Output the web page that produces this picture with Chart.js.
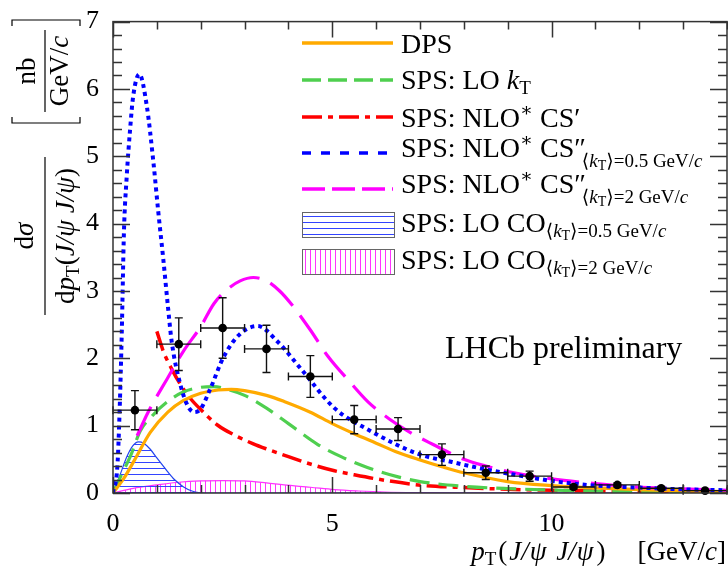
<!DOCTYPE html>
<html>
<head>
<meta charset="utf-8">
<script src="https://cdn.jsdelivr.net/npm/chart.js@4.4.0/dist/chart.umd.min.js"></script>
<style>
html, body { margin: 0; padding: 0; background: #fff; }
</style>
</head>
<body>
<canvas id="plot" width="728" height="569"></canvas>
<script>
// measured points (bin centres, values, errors)
const dataX = [0.5, 1.5, 2.5, 3.5, 4.5, 5.5, 6.5, 7.5, 8.5, 9.5, 10.5, 11.5, 12.5, 13.5];
const dataY = [1.23, 2.21, 2.45, 2.14, 1.73, 1.09, 0.95, 0.57, 0.30, 0.25, 0.09, 0.12, 0.07, 0.035];
const dataXErr = [0.5, 0.5, 0.5, 0.5, 0.5, 0.5, 0.5, 0.5, 0.5, 0.5, 0.5, 0.5, 0.5, 0.5];
const dataYErr = [0.29, 0.39, 0.45, 0.35, 0.31, 0.21, 0.17, 0.16, 0.10, 0.075, 0.03, 0.03, 0.02, 0.015];

// DPS
const dpsX = [0, 0.25, 0.5, 0.85, 1.25, 1.6, 2.0, 2.4, 2.7, 3.0, 3.5, 3.9, 4.5, 5.0, 5.5, 6.0, 6.5, 7.0, 7.5, 8.0, 9.0, 10, 11, 12, 13, 14];
const dpsY = [0, 0.22, 0.5, 0.9, 1.2, 1.37, 1.48, 1.53, 1.54, 1.52, 1.45, 1.36, 1.2, 1.03, 0.88, 0.74, 0.6, 0.49, 0.39, 0.3, 0.17, 0.11, 0.075, 0.05, 0.033, 0.022];

// SPS: LO kT
const lokX = [0, 0.2, 0.4, 0.62, 0.9, 1.23, 1.6, 2.0, 2.3, 2.6, 3.0, 3.5, 4.0, 4.67, 5.2, 5.8, 6.5, 7.0, 8, 9, 10, 11, 12, 13, 14];
const lokY = [0, 0.28, 0.55, 0.92, 1.15, 1.35, 1.5, 1.57, 1.58, 1.54, 1.45, 1.26, 1.03, 0.72, 0.54, 0.38, 0.24, 0.17, 0.1, 0.065, 0.045, 0.03, 0.02, 0.015, 0.01];

// SPS: NLO* CS'
const csX = [1.0, 1.15, 1.34, 1.55, 1.77, 2.0, 2.38, 2.8, 3.2, 3.52, 4.0, 4.5, 5.05, 5.5, 6.0, 6.96, 8, 9, 10, 11, 12, 13, 14];
const csY = [2.4, 2.1, 1.84, 1.6, 1.4, 1.24, 1.01, 0.85, 0.73, 0.65, 0.54, 0.43, 0.33, 0.27, 0.21, 0.12, 0.08, 0.055, 0.04, 0.03, 0.02, 0.015, 0.01];

// SPS: NLO* CS'' <kT>=0.5
const cs05X = [0, 0.1, 0.15, 0.2, 0.25, 0.31, 0.39, 0.46, 0.6, 0.77, 0.92, 1.03, 1.15, 1.26, 1.34, 1.54, 1.7, 1.85, 2.0, 2.22, 2.53, 2.91, 3.3, 3.75, 4.29, 5.05, 5.82, 6.96, 7.73, 8.5, 9.26, 10, 10.8, 12, 13, 14];
const cs05Y = [0, 0.4, 1.2, 2.38, 3.89, 4.67, 5.4, 5.89, 6.22, 5.75, 4.92, 4.19, 3.45, 2.72, 2.24, 1.6, 1.3, 1.2, 1.25, 1.55, 2.03, 2.37, 2.48, 2.25, 1.84, 1.26, 0.94, 0.58, 0.46, 0.35, 0.26, 0.18, 0.12, 0.08, 0.055, 0.04];

// SPS: NLO* CS'' <kT>=2
const cs2X = [0.55, 0.8, 1.23, 1.6, 2.0, 2.3, 2.6, 2.9, 3.2, 3.5, 3.8, 4.06, 4.5, 4.9, 5.4, 5.82, 6.3, 6.8, 7.3, 8.0, 8.5, 9, 10, 11, 11.9, 13, 14];
const cs2Y = [0.85, 1.2, 1.69, 2.1, 2.47, 2.81, 3.02, 3.15, 3.2, 3.15, 3.0, 2.81, 2.42, 2.03, 1.65, 1.35, 1.1, 0.89, 0.72, 0.5, 0.4, 0.32, 0.21, 0.14, 0.09, 0.06, 0.04];

// SPS: LO CO <kT>=0.5
const co05X = [0, 0.15, 0.31, 0.45, 0.58, 0.7, 0.85, 1.0, 1.23, 1.4, 1.61, 1.8, 1.95, 2.1, 14];
const co05Y = [0, 0.25, 0.53, 0.7, 0.76, 0.74, 0.65, 0.52, 0.33, 0.2, 0.09, 0.03, 0.005, 0, 0];

// SPS: LO CO <kT>=2
const co2X = [0, 0.46, 1.0, 1.5, 2.0, 2.5, 3.0, 3.5, 3.9, 4.5, 5.05, 5.6, 6.2, 7, 8, 10, 14];
const co2Y = [0, 0.07, 0.12, 0.16, 0.18, 0.185, 0.18, 0.15, 0.12, 0.085, 0.05, 0.03, 0.015, 0.007, 0.003, 0, 0];

const SERIF = '"Liberation Serif", "DejaVu Serif", serif';
const pts = (xs, ys) => xs.map((v, i) => ({ x: v, y: ys[i] }));

function hatch(color, horizontal, step) {
    const c = document.createElement('canvas');
    c.width = step; c.height = step;
    const g = c.getContext('2d');
    g.strokeStyle = color;
    g.lineWidth = 1;
    g.beginPath();
    if (horizontal) { g.moveTo(0, 0.5); g.lineTo(step, 0.5); }
    else { g.moveTo(0.5, 0); g.lineTo(0.5, step); }
    g.stroke();
    return g.createPattern(c, 'repeat');
}
const blueHatch = hatch('#3344ff', true, 6);
const pinkHatch = hatch('#ff33ff', false, 5);

// segments: [text, size, italic, dy, dx]
function rich(ctx, segs, x, y, align) {
    const widths = segs.map(s => {
        ctx.font = (s[2] ? 'italic ' : '') + s[1] + 'px ' + SERIF;
        return ctx.measureText(s[0]).width + (s[4] || 0);
    });
    const total = widths.reduce((a, b) => a + b, 0);
    let cx = align === 'right' ? x - total : align === 'center' ? x - total / 2 : x;
    segs.forEach((s, i) => {
        ctx.font = (s[2] ? 'italic ' : '') + s[1] + 'px ' + SERIF;
        ctx.fillText(s[0], cx + (s[4] || 0), y + (s[3] || 0));
        cx += widths[i];
    });
}

const L = 28, S = 19, SS = 14;
const legendItems = [
    { kind: 'line', color: '#ffaa00', dash: [], width: 3.5,
      text: [['DPS', L]] },
    { kind: 'line', color: '#4fcf4f', dash: [19, 7], width: 3.5,
      text: [['SPS: LO ', L], ['k', L, true], ['T', S, false, 5]] },
    { kind: 'line', color: '#ff0000', dash: [20, 6, 5, 6], width: 3.5,
      text: [['SPS: NLO', L], ['\u2217', S, false, -11], [' CS\u2032', L]] },
    { kind: 'line', color: '#0000ff', dash: [9, 10], width: 3.5,
      text: [['SPS: NLO', L], ['\u2217', S, false, -11], [' CS\u2033', L],
             ['\u27e8', S, false, 10, -4], ['k', S, true, 10], ['T', SS, false, 13], ['\u27e9=0.5 GeV/', S, false, 10], ['c', S, true, 10]] },
    { kind: 'line', color: '#ff00ff', dash: [23, 7], width: 3.5,
      text: [['SPS: NLO', L], ['\u2217', S, false, -11], [' CS\u2033', L],
             ['\u27e8', S, false, 10, -4], ['k', S, true, 10], ['T', SS, false, 13], ['\u27e9=2 GeV/', S, false, 10], ['c', S, true, 10]] },
    { kind: 'box', fill: blueHatch,
      text: [['SPS: LO CO', L], ['\u27e8', S, false, 5], ['k', S, true, 5], ['T', SS, false, 8], ['\u27e9=0.5 GeV/', S, false, 5], ['c', S, true, 5]] },
    { kind: 'box', fill: pinkHatch,
      text: [['SPS: LO CO', L], ['\u27e8', S, false, 5], ['k', S, true, 5], ['T', SS, false, 8], ['\u27e9=2 GeV/', S, false, 5], ['c', S, true, 5]] }
];
const legendY = [43, 80, 117, 153, 189, 225, 262];
const legendBase = [53, 89, 127, 157, 193, 232, 269];

// pT(J/psi J/psi) with a little math spacing
const pairSegs = [['(', 27, false, 0, 2], ['J/', 27, true, 0, 2], ['\u03c8', 27, true, 0, 1], [' J/', 27, true, 0, 3], ['\u03c8', 27, true, 0, 1], [')', 27, false, 0, 3]];
const pairPlain = [['(', 27], ['J/\u03c8 J/\u03c8', 27, true], [')', 27]];

const frame = {
    id: 'frame',
    afterDatasetsDraw(chart) {
        const { ctx, scales: { x, y } } = chart;
        ctx.save();
        ctx.strokeStyle = '#111';
        ctx.lineWidth = 1.4;
        dataX.forEach((v, i) => {
            const px = x.getPixelForValue(v), py = y.getPixelForValue(dataY[i]);
            const x0 = x.getPixelForValue(v - dataXErr[i]), x1 = x.getPixelForValue(v + dataXErr[i]);
            const y0 = y.getPixelForValue(dataY[i] + dataYErr[i]), y1 = y.getPixelForValue(dataY[i] - dataYErr[i]);
            ctx.beginPath();
            ctx.moveTo(x0, py); ctx.lineTo(x1, py);
            ctx.moveTo(px, y0); ctx.lineTo(px, y1);
            ctx.moveTo(x0, py - 4); ctx.lineTo(x0, py + 4);
            ctx.moveTo(x1, py - 4); ctx.lineTo(x1, py + 4);
            ctx.moveTo(px - 4, y0); ctx.lineTo(px + 4, y0);
            ctx.moveTo(px - 4, y1); ctx.lineTo(px + 4, y1);
            ctx.stroke();
        });
        ctx.fillStyle = '#000';
        dataX.forEach((v, i) => {
            ctx.beginPath();
            ctx.arc(x.getPixelForValue(v), y.getPixelForValue(dataY[i]), 4.3, 0, Math.PI * 2);
            ctx.fill();
        });
        ctx.restore();
    },
    afterDraw(chart) {
        const { ctx, chartArea: a, scales: { x, y } } = chart;
        ctx.save();
        // frame and inner ticks
        ctx.strokeStyle = '#333';
        ctx.lineWidth = 1.5;
        ctx.strokeRect(a.left, a.top, a.right - a.left, a.bottom - a.top);
        ctx.beginPath();
        for (let v = 0; v <= 7.001; v += 0.2) {
            const py = Math.round(y.getPixelForValue(v)) + 0.5;
            const major = Math.abs(v - Math.round(v)) < 0.01;
            const len = major ? 17 : 9;
            ctx.moveTo(a.left, py); ctx.lineTo(a.left + len, py);
            ctx.moveTo(a.right, py); ctx.lineTo(a.right - len, py);
        }
        for (let v = 0; v <= 14; v += 1) {
            const px = Math.round(x.getPixelForValue(v)) + 0.5;
            const len = v % 5 === 0 ? 16 : 8;
            ctx.moveTo(px, a.bottom); ctx.lineTo(px, a.bottom - len);
            ctx.moveTo(px, a.top); ctx.lineTo(px, a.top + len);
        }
        ctx.stroke();

        // legend
        ctx.fillStyle = '#000';
        ctx.textBaseline = 'alphabetic';
        legendItems.forEach((it, i) => {
            if (it.kind === 'line') {
                ctx.save();
                ctx.strokeStyle = it.color;
                ctx.lineWidth = it.width;
                ctx.setLineDash(it.dash);
                ctx.beginPath();
                ctx.moveTo(302, legendY[i]); ctx.lineTo(393, legendY[i]);
                ctx.stroke();
                ctx.restore();
            } else {
                ctx.save();
                ctx.fillStyle = it.fill;
                ctx.fillRect(302, legendY[i] - 12, 92, 25);
                ctx.strokeStyle = '#666';
                ctx.lineWidth = 1;
                ctx.strokeRect(302.5, legendY[i] - 12.5, 92, 25);
                ctx.restore();
            }
            rich(ctx, it.text, 401, legendBase[i], 'left');
        });

        // LHCb label
        ctx.font = '32px ' + SERIF;
        ctx.fillText('LHCb preliminary', 445, 358);

        // x title
        rich(ctx, [['p', 27, true], ['T', 19, false, 5]].concat(pairSegs,
                  [['[GeV/', 27, false, 0, 32], ['c', 27, true], [']', 27]]), 726, 560, 'right');

        // y title (rotated)
        ctx.save();
        ctx.rotate(-Math.PI / 2);
        rich(ctx, [['d', 27], ['\u03c3', 27, true]], -236, 33, 'center');
        rich(ctx, [['d', 27], ['p', 27, true], ['T', 19, false, 5]].concat(pairPlain), -236, 74, 'center');
        ctx.lineWidth = 1.2;
        ctx.strokeStyle = '#000';
        ctx.beginPath();
        ctx.moveTo(-315, 45); ctx.lineTo(-157, 45);
        ctx.stroke();
        rich(ctx, [['nb', 27]], -71, 35, 'center');
        rich(ctx, [['GeV/', 27], ['c', 27, true]], -71, 68, 'center');
        ctx.beginPath();
        ctx.moveTo(-112, 45); ctx.lineTo(-30, 45);
        // brackets
        ctx.moveTo(-117, 12); ctx.lineTo(-123, 12); ctx.lineTo(-123, 80); ctx.lineTo(-117, 80);
        ctx.moveTo(-26, 12); ctx.lineTo(-20, 12); ctx.lineTo(-20, 80); ctx.lineTo(-26, 80);
        ctx.stroke();
        ctx.restore();
        ctx.restore();
    }
};

const lineDs = (label, xs, ys, color, dash, width, order) => ({
    label, data: pts(xs, ys), borderColor: color, borderDash: dash, borderWidth: width,
    pointRadius: 0, fill: false, cubicInterpolationMode: 'monotone', order
});

const ctx = document.getElementById('plot').getContext('2d');
new Chart(ctx, {
    type: 'line',
    data: {
        datasets: [
            lineDs('SPS: NLO* CS\'\' <kT>=0.5', cs05X, cs05Y, '#0000ff', [4, 4], 4, 1),
            lineDs('SPS: NLO* CS\'\' <kT>=2', cs2X, cs2Y, '#ff00ff', [32, 12], 3.2, 2),
            lineDs('DPS', dpsX, dpsY, '#ffaa00', [], 3.2, 3),
            lineDs('SPS: LO kT', lokX, lokY, '#4fcf4f', [20, 9], 3.2, 4),
            lineDs('SPS: NLO* CS\'', csX, csY, '#ff0000', [20, 6, 5, 6], 3.5, 5),
            { label: 'SPS: LO CO <kT>=0.5', data: pts(co05X, co05Y), borderColor: '#2244ee', borderWidth: 1.2,
              backgroundColor: blueHatch, fill: 'origin', pointRadius: 0, cubicInterpolationMode: 'monotone', order: 6 },
            { label: 'SPS: LO CO <kT>=2', data: pts(co2X, co2Y), borderColor: '#ff33ff', borderWidth: 1.2,
              backgroundColor: pinkHatch, fill: 'origin', pointRadius: 0, cubicInterpolationMode: 'monotone', order: 7 }
        ]
    },
    options: {
        responsive: false,
        animation: false,
        layout: { padding: { top: 14, right: 1, left: 0, bottom: 0 } },
        plugins: { legend: { display: false }, tooltip: { enabled: false } },
        scales: {
            x: {
                type: 'linear', min: 0, max: 14,
                grid: { display: false }, border: { display: false },
                ticks: { stepSize: 5, color: '#000', padding: 8, maxRotation: 0, font: { family: SERIF, size: 26 } },
                afterBuildTicks(s) { s.ticks = s.ticks.filter(t => t.value % 5 === 0); },
                afterFit(s) { s.height = 76; }
            },
            y: {
                type: 'linear', min: 0, max: 7,
                grid: { display: false }, border: { display: false },
                ticks: { stepSize: 1, color: '#000', padding: 6, font: { family: SERIF, size: 26 } },
                afterFit(s) { s.width = 113; }
            }
        }
    },
    plugins: [frame]
});
</script>
</body>
</html>
